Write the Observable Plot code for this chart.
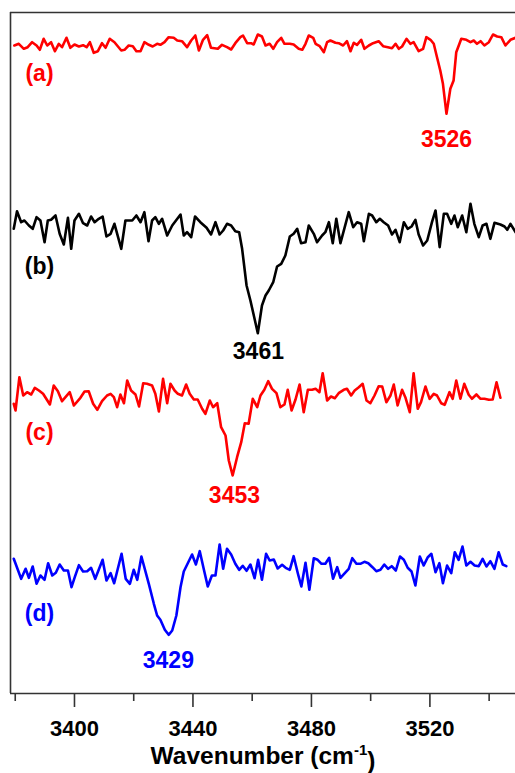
<!DOCTYPE html>
<html>
<head>
<meta charset="utf-8">
<script src="https://cdn.jsdelivr.net/npm/d3@7"></script>
<script src="https://cdn.jsdelivr.net/npm/@observablehq/plot@0.6"></script>
<style>
  html, body { margin: 0; padding: 0; background: #fff; }
  #chart { width: 515px; height: 773px; }
</style>
</head>
<body>
<div id="chart"></div>
<script>
// ---- Data (wavenumber in cm-1, relative intensity, arbitrary units) ----
const seriesNames = ["(a)", "(b)", "(c)", "(d)"];
const seriesColors = ["#ff0000", "#000000", "#ff0000", "#0000ff"];
const seriesOffsets = [65.3, 47.3, 29.3, 11.3];

const wnA = [3379.7,3381.2,3382.9,3384.2,3385.7,3387.2,3388.3,3389.6,3390.8,3392.1,3393.4,3394.7,3395.8,3397.3,3398.6,3400.0,3401.5,3402.9,3404.1,3405.2,3406.5,3407.9,3409.3,3410.5,3411.9,3413.5,3415.8,3416.9,3418.3,3419.7,3420.9,3422.3,3423.6,3425.1,3426.4,3427.9,3429.0,3430.4,3431.8,3433.5,3434.7,3436.3,3438.0,3439.4,3440.8,3442.0,3443.4,3444.8,3446.1,3448.4,3449.8,3451.5,3452.9,3454.3,3456.0,3456.9,3458.3,3459.6,3460.5,3461.9,3463.3,3464.5,3465.9,3467.1,3468.4,3469.8,3470.9,3472.7,3474.0,3475.7,3476.9,3478.0,3479.1,3480.6,3481.4,3482.8,3484.2,3485.3,3486.4,3488.1,3489.2,3490.7,3492.0,3493.2,3494.3,3495.4,3496.8,3497.9,3499.4,3500.8,3502.7,3504.2,3505.8,3507.2,3508.4,3509.5,3510.6,3512.1,3513.4,3514.5,3516.2,3517.7,3518.8,3520.2,3521.3,3522.4,3523.5,3524.4,3525.6,3526.9,3528.0,3528.9,3530.6,3532.3,3533.7,3534.8,3535.9,3537.1,3538.4,3539.9,3541.3,3542.7,3544.1,3545.5,3547.2,3548.9];
const intA = [-0.5,-0.33,-0.83,-0.67,-0.17,-0.5,-0.93,0.17,-0.5,-0.17,-1.07,-0.33,-0.67,0.27,-0.73,-0.4,-0.6,-0.47,-0.67,-0.17,-1.23,-1.07,-0.27,-0.73,0.17,-0.17,-1.0,-0.93,-0.5,-0.57,-1.07,-1.07,-0.17,-0.43,-0.6,-0.33,-0.43,-0.17,0.33,0.27,0,-0.07,-0.67,0,0.5,-1.0,0.07,0.53,-0.73,-0.83,-0.43,-0.67,-0.9,-0.27,0.33,0.5,-0.27,-0.27,-0.4,0.6,0.4,-0.5,-0.33,-0.83,-0.17,0.27,-0.33,-0.33,-0.4,-0.83,-0.93,-0.33,0.5,0.27,-0.33,-0.57,-1.17,-0.17,0,-0.23,-0.27,-0.5,-0.07,-1.07,-0.23,-0.43,0.07,-0.83,-0.5,-0.27,-0.07,-0.57,-0.67,-0.77,-0.33,-0.83,-0.6,0.17,-0.33,-0.17,-1.07,-0.83,0.33,0.07,-0.33,-1.67,-3.0,-4.33,-7.33,-4.83,-4.0,-1.17,0.17,0.07,-0.17,0,-0.33,-0.07,-0.5,-0.17,0.6,0.4,0.33,-0.5,0.07,0.27];

const wnB = [3379.5,3380.6,3382.0,3383.1,3384.6,3385.9,3387.2,3388.5,3389.9,3391.0,3392.1,3393.6,3395.0,3396.4,3397.8,3398.9,3400.0,3401.5,3402.9,3404.3,3405.6,3406.8,3408.2,3409.5,3410.8,3412.2,3413.5,3415.8,3417.2,3419.5,3420.9,3422.3,3423.6,3425.0,3426.2,3427.3,3428.5,3429.6,3431.3,3433.0,3435.8,3436.9,3438.0,3439.4,3440.7,3442.5,3444.6,3446.1,3447.6,3449.0,3450.2,3451.5,3452.9,3454.3,3455.6,3456.6,3458.1,3459.4,3461.9,3463.3,3464.5,3465.6,3467.1,3468.4,3469.8,3471.2,3472.7,3474.0,3475.2,3476.5,3478.0,3479.1,3480.8,3481.9,3483.6,3484.7,3485.9,3487.2,3488.4,3489.8,3492.6,3494.1,3495.4,3496.8,3497.7,3499.4,3500.5,3501.9,3503.1,3504.4,3505.9,3507.2,3508.4,3509.8,3511.2,3512.5,3513.8,3515.1,3516.2,3517.7,3519.1,3520.7,3521.9,3523.3,3524.7,3525.8,3527.2,3528.3,3529.4,3530.9,3532.3,3533.7,3535.0,3536.5,3537.8,3539.1,3540.4,3541.8,3543.8,3545.2,3546.1,3547.2,3548.9];
const intB = [-0.83,0.93,-0.17,0,-0.5,-0.83,0.33,0,-2.17,0,0.07,0.5,-1.33,-2.4,0.27,-2.83,0,0.67,-0.27,-0.5,0.4,-0.17,0.17,0.4,-1.6,-1.33,-0.33,-2.83,0,0,0.5,-0.17,0.83,-2.07,0,0.33,-0.33,0.17,-1.5,-0.5,0.6,-1.5,-1.17,-1.67,0.4,-0.17,-0.73,-1.4,-0.17,-1.4,-1.0,-0.33,-0.5,-1.07,-1.17,-2.83,-6.5,-8.0,-11.27,-8.5,-7.5,-7.0,-6.17,-4.6,-4.33,-3.5,-1.6,-1.33,-0.83,-2.27,-2.17,-0.5,-1.33,-2.17,-1.5,-1.17,-0.17,-2.27,0.17,-2.27,0.83,-0.67,-0.17,-0.33,-2.07,0.67,0.5,-0.17,0.17,-0.17,-0.5,-1.4,-0.93,-2.17,-0.17,-0.83,-0.6,0.07,-1.4,-2.5,-2.0,-0.17,1.0,-2.67,0.67,0.67,-0.33,0.5,-0.67,0.5,-1.17,1.67,-0.33,-1.67,-0.5,-0.33,-1.83,-0.23,-0.4,-0.6,-0.93,-0.33,-1.17];

const wnC = [3379.5,3380.1,3381.4,3382.7,3384.0,3385.4,3386.6,3388.0,3389.4,3391.7,3393.0,3394.4,3395.8,3398.4,3399.8,3402.0,3403.4,3404.8,3406.3,3407.7,3409.3,3411.0,3412.2,3413.3,3414.4,3415.5,3416.7,3417.8,3419.1,3420.6,3421.8,3423.2,3424.5,3426.2,3427.3,3428.5,3429.9,3431.3,3432.4,3433.8,3434.9,3436.3,3437.7,3438.9,3440.3,3441.6,3443.1,3444.2,3445.7,3446.8,3448.2,3449.5,3451.0,3452.1,3453.4,3454.9,3456.3,3457.5,3458.8,3460.2,3461.7,3462.8,3464.1,3465.4,3466.7,3468.2,3469.5,3470.9,3472.0,3473.3,3474.6,3476.0,3477.4,3478.8,3480.2,3481.4,3482.7,3483.8,3485.3,3486.6,3487.9,3489.2,3490.9,3492.0,3493.4,3494.6,3496.0,3497.3,3498.6,3499.9,3501.3,3502.7,3503.9,3505.3,3506.7,3507.8,3509.1,3510.6,3511.7,3513.2,3514.5,3515.9,3517.0,3518.5,3519.9,3521.3,3522.4,3523.8,3525.0,3526.6,3527.7,3528.9,3530.3,3531.6,3533.1,3534.2,3535.7,3537.1,3538.4,3539.9,3541.2,3542.5,3543.8];
const intC = [-0.33,-1.0,2.33,0.5,0.83,0.6,1.27,1.0,0.67,-0.4,1.5,0.93,-0.07,0.83,-0.5,0.27,0.9,0.93,-0.33,-0.93,-0.07,0.5,0.67,0.33,-0.67,0.6,-0.27,2.0,1.0,0.6,-0.6,1.73,1.67,1.5,0.67,-1.1,2.17,-0.27,1.67,1.0,0.67,0.5,1.6,0.67,0.1,0.1,-0.83,-1.33,0,-0.67,-0.27,-2.67,-3.5,-6.0,-7.5,-5.67,-4.17,-2.27,-2.33,0.17,-0.67,0.5,1.07,1.93,1.17,0.73,-0.67,-0.4,1.07,-1.0,0.07,1.6,-1.17,1.07,1.07,1.17,0.83,2.73,0,0.4,0.23,0.73,1.07,1.17,0.5,1.0,1.33,1.67,0,-0.27,0.5,1.43,1.4,-0.17,0.5,1.6,-0.5,1.07,0.33,-1.17,2.73,-0.83,-0.17,1.4,0.17,0.67,0.5,-0.27,-0.43,0.83,0.17,2.0,0.17,1.67,0.57,0.17,0.6,0.17,0.17,0.07,0.1,1.83,0.27];

const wnD = [3379.5,3382.0,3383.5,3384.6,3385.9,3387.2,3388.5,3389.9,3391.1,3392.5,3393.7,3395.0,3396.4,3397.8,3399.0,3400.1,3401.5,3402.9,3404.3,3405.6,3407.0,3409.5,3410.8,3412.2,3413.4,3415.9,3417.3,3418.7,3420.0,3421.2,3422.6,3425.1,3426.8,3427.9,3429.0,3430.5,3431.8,3433.0,3434.4,3435.8,3436.9,3439.7,3441.0,3442.3,3443.7,3445.0,3446.4,3447.6,3449.0,3450.2,3451.5,3452.9,3454.3,3455.6,3456.8,3458.1,3459.4,3460.8,3462.0,3463.3,3464.7,3465.9,3467.3,3468.6,3470.1,3471.3,3472.7,3474.0,3475.4,3476.6,3478.0,3479.3,3480.8,3482.1,3483.4,3484.7,3486.0,3487.3,3488.7,3489.8,3492.6,3493.8,3495.2,3496.5,3497.9,3499.2,3500.6,3501.9,3503.3,3504.6,3505.9,3507.1,3508.5,3509.9,3511.2,3512.5,3513.8,3515.1,3516.6,3517.9,3519.3,3520.5,3521.9,3523.2,3524.4,3525.8,3527.2,3528.4,3529.7,3531.0,3532.3,3533.7,3535.1,3536.5,3537.8,3539.1,3540.4,3541.8,3543.2,3544.6,3545.8];
const intD = [2.17,0.17,1.17,0.27,1.4,-0.33,0.5,0.07,1.73,0.5,0.77,1.6,1.0,1.0,-0.67,0.33,1.53,0.9,0.93,1.27,0.17,2.07,0,0.73,-0.27,2.67,0.17,-0.33,1.07,0.07,2.4,-0.33,-2.33,-3.5,-3.93,-4.93,-5.43,-5.0,-3.5,-0.67,0.9,2.6,1.6,2.93,1.07,-0.6,0.5,0.5,3.6,1.17,3.17,2.6,1.67,1.07,1.47,0.97,1.6,0.23,2.07,0.07,2.67,2.0,2.1,1.2,1.57,1.27,1.07,2.43,0.73,-0.6,1.77,-0.93,2.23,2.07,1.67,1.67,2.27,0.17,1.33,0.27,1.17,2.23,1.67,1.67,1.87,1.73,1.33,0.93,1.07,1.6,1.17,1.43,1.0,2.4,2.07,1.27,0.9,-0.5,2.4,1.5,2.33,2.67,0.83,1.73,-0.27,1.5,0.73,2.83,2.07,3.4,1.5,1.87,1.5,1.43,2.17,1.4,1.93,1.17,2.83,1.6,1.43];

// Annotations
const seriesLabelWn = [3388.2, 3388.2, 3388.2, 3388.2];
const seriesLabelY = [62.0, 42.7, 26.1, 8.0];
const peakLabels = ["3526", "3461", "3453", "3429"];
const peakLabelWn = [3525.6, 3462.1, 3454.0, 3431.7];
const peakLabelY = [55.4, 34.2, 19.8, 3.3];

// Axis
const xDomain = [3378.4, 3548.9];
const yDomain = [0, 68.1];
const majorTicks = [3400, 3440, 3480, 3520];
const minorTicks = [3380, 3420, 3460, 3500, 3540];
const xLabel = "Wavenumber (cm-1)";

// ---- Build ----
const wnSets = [wnA, wnB, wnC, wnD];
const intSets = [intA, intB, intC, intD];
const lineMarks = wnSets.map((wns, i) =>
  Plot.line(wns.map((w, j) => ({wn: w, y: seriesOffsets[i] + intSets[i][j]})), {
    x: "wn", y: "y", stroke: seriesColors[i], strokeWidth: 2.6, clip: true
  })
);

const labelRows = seriesNames.map((n, i) => ({t: n, x: seriesLabelWn[i], y: seriesLabelY[i], c: seriesColors[i]}));
const peakRows = peakLabels.map((n, i) => ({t: n, x: peakLabelWn[i], y: peakLabelY[i], c: seriesColors[i]}));

const font = "'Liberation Sans', Arial, sans-serif";
const frameColor = "#333";

const chart = Plot.plot({
  width: 515,
  height: 773,
  marginLeft: 10,
  marginRight: 0,
  marginTop: 12,
  marginBottom: 80,
  style: {fontFamily: font, fontWeight: "bold", background: "#fff"},
  x: {domain: xDomain},
  y: {domain: yDomain, axis: null},
  marks: [
    Plot.ruleX([xDomain[0]], {stroke: frameColor, strokeWidth: 1.6}),
    Plot.ruleY([yDomain[1]], {stroke: frameColor, strokeWidth: 1.6}),
    Plot.ruleY([yDomain[0]], {stroke: frameColor, strokeWidth: 1.6}),
    Plot.axisX(majorTicks, {tickSize: 14, tickPadding: 13, stroke: frameColor, strokeWidth: 1.6,
      fontSize: 22, fontWeight: "bold", fill: "#000", label: null, tickFormat: d => String(d)}),
    Plot.axisX(minorTicks, {tickSize: 8, stroke: frameColor, strokeWidth: 1.6, text: null, label: null}),
    ...lineMarks,
    Plot.text(labelRows, {x: "x", y: "y", text: "t", fill: d => d.c, fontSize: 23, fontWeight: "bold"}),
    Plot.text(peakRows, {x: "x", y: "y", text: "t", fill: d => d.c, fontSize: 23, fontWeight: "bold"}),
    Plot.text([xLabel], {frameAnchor: "bottom", text: d => d, dy: 70, fontSize: 24.5, fontWeight: "bold", fill: "#000"})
  ]
});

document.getElementById("chart").appendChild(chart);

// Format the x-axis title with a superscript "-1" (baseline placed exactly at the anchor)
d3.select(chart).selectAll("text").each(function() {
  const el = d3.select(this);
  if (el.text() === xLabel) {
    el.attr("dy", null).attr("dominant-baseline", null);
    el.text(null);
    el.append("tspan").text("Wavenumber (cm");
    el.append("tspan").attr("dy", "-0.6em").attr("font-size", "15px").text("-1");
    el.append("tspan").attr("dy", "0.6em").text(")");
  }
});
</script>
</body>
</html>
